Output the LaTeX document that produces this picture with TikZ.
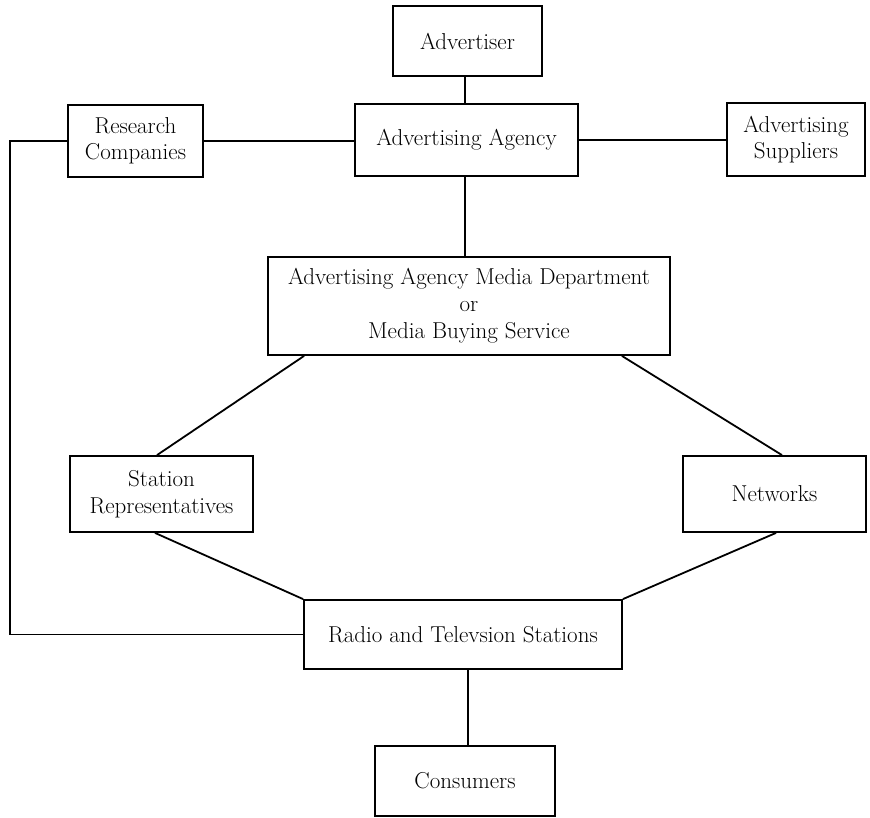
\documentclass[tikz,border=0pt]{standalone}
\usetikzlibrary{calc}
\begin{document}
\begin{tikzpicture}[x=1pt,y=-1pt,
  box/.style={draw, line width=1.8pt, inner sep=0pt, align=center,
              font=\fontsize{23}{26.5}\selectfont},
  link/.style={line width=1.8pt},
  thinlink/.style={line width=1.2pt}]
\useasboundingbox (0,0) rectangle (870,817);

% boxes
\node[box, minimum width=149pt, minimum height=70pt] (adv) at (467.5,41) {Advertiser};
\node[box, minimum width=223pt, minimum height=72pt] (agency) at (466.5,140) {Advertising Agency};
\node[box, minimum width=135pt, minimum height=72pt] (research) at (135.5,141) {Research\\Companies};
\node[box, minimum width=138pt, minimum height=73pt] (suppliers) at (796,139.5) {Advertising\\Suppliers};
\node[box, minimum width=402pt, minimum height=98pt, font=\fontsize{23}{27}\selectfont] (media) at (469,306)
  {Advertising Agency Media Department\\or\\Media Buying Service};
\node[box, minimum width=183pt, minimum height=76pt] (reps) at (161.5,494) {Station\\Representatives};
\node[box, minimum width=183pt, minimum height=76pt] (networks) at (774.5,494) {Networks};
\node[box, minimum width=318pt, minimum height=69pt] (stations) at (463,634.5) {Radio and Televsion Stations};
\node[box, minimum width=180pt, minimum height=70pt] (consumers) at (465,781) {Consumers};

% connectors
\draw[thinlink] ([xshift=-2.5pt]adv.south) -- ([xshift=-1.5pt]agency.north);
\draw[link] (research.east) -- (research.east -| agency.west);
\draw[link] (agency.east) -- (agency.east -| suppliers.west);
\draw[thinlink] ([xshift=-1.5pt]agency.south) -- ([xshift=-4pt]media.north);
\draw[link] ([xshift=37pt]media.south west) -- ([xshift=-4.5pt]reps.north);
\draw[link] ([xshift=-49pt]media.south east) -- ([xshift=7.5pt]networks.north);
\draw[link] ([xshift=-6.5pt]reps.south) -- (stations.north west);
\draw[link] ([xshift=1.5pt]networks.south) -- (stations.north east);
\coordinate (loop) at (10,141);
\draw[thinlink] (research.west) -- (loop) |- (stations.west);
\draw[thinlink] ([xshift=5pt]stations.south) -- ([xshift=3pt]consumers.north);
\end{tikzpicture}
\end{document}
